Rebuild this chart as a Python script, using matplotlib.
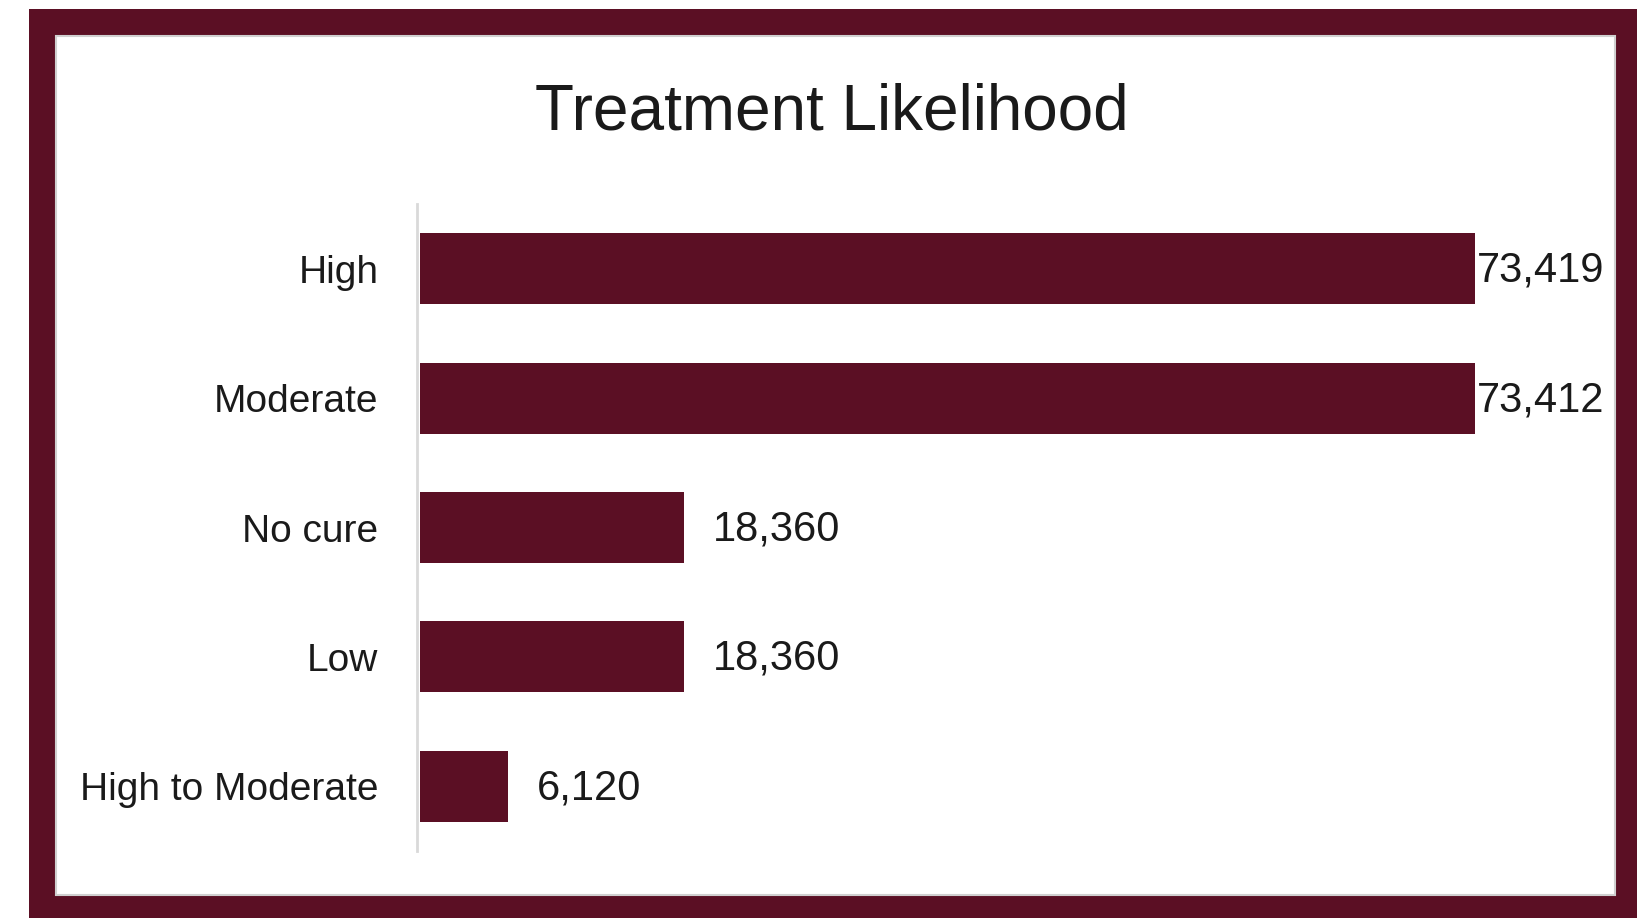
import matplotlib.pyplot as plt
from matplotlib.patches import Rectangle

# treatment likelihood counts
categories = ['High', 'Moderate', 'No cure', 'Low', 'High to Moderate']
counts = [73419, 73412, 18360, 18360, 6120]

plt.rcParams['font.family'] = ['Liberation Sans', 'DejaVu Sans']

maroon = '#5B0F24'
ink = '#1a1a1a'
W, H = 1637, 918

fig = plt.figure(figsize=(W / 100, H / 100), dpi=100)
fig.patch.set_facecolor('white')


def px_rect(x0, y0, x1, y1, **kw):
    # rectangle given in pixel coords from the top-left corner
    return Rectangle((x0 / W, 1 - y1 / H), (x1 - x0) / W, (y1 - y0) / H,
                     transform=fig.transFigure, **kw)


# maroon frame with a white card inside
fig.patches.append(px_rect(29, 9, W + 5, H + 5, facecolor=maroon, edgecolor='none', zorder=0))
fig.patches.append(px_rect(56, 36, 1615, 895, facecolor='white', edgecolor='#D0D0D0',
                           linewidth=1.5, zorder=1))

# plot area
ax_l, ax_r, ax_t, ax_b = 420, 1570, 204, 851
ax = fig.add_axes([ax_l / W, 1 - ax_b / H, (ax_r - ax_l) / W, (ax_b - ax_t) / H])
ax.set_facecolor('none')
ax.set_zorder(2)

ypos = list(range(len(categories)))
ax.barh(ypos, counts, height=0.55, color=maroon, zorder=2)
ax.set_xlim(0, 80000)
ax.set_ylim(len(categories) - 0.5, -0.5)

ax.set_yticks(ypos)
ax.set_yticklabels(categories)
ax.tick_params(axis='y', length=0, pad=28, labelsize=28, labelcolor=ink)
ax.set_xticks([])

for s in ['top', 'right', 'bottom']:
    ax.spines[s].set_visible(False)
ax.spines['left'].set_color('#D9D9D9')
ax.spines['left'].set_linewidth(2)
ax.spines['left'].set_position(('outward', 2))

# value labels; the long bars get a tight label so it stays inside the card
for y, v in zip(ypos, counts):
    pad = 1 if v > 60000 else 21
    ax.annotate(f'{v:,}', (v, y), xytext=(pad, -1.5), textcoords='offset points',
                va='center', ha='left', fontsize=30, color=ink,
                annotation_clip=False)

fig.text(832 / W, 1 - 113 / H, 'Treatment Likelihood', ha='center', va='center',
         fontsize=46, color=ink)

fig.savefig('out.png', dpi=100)
